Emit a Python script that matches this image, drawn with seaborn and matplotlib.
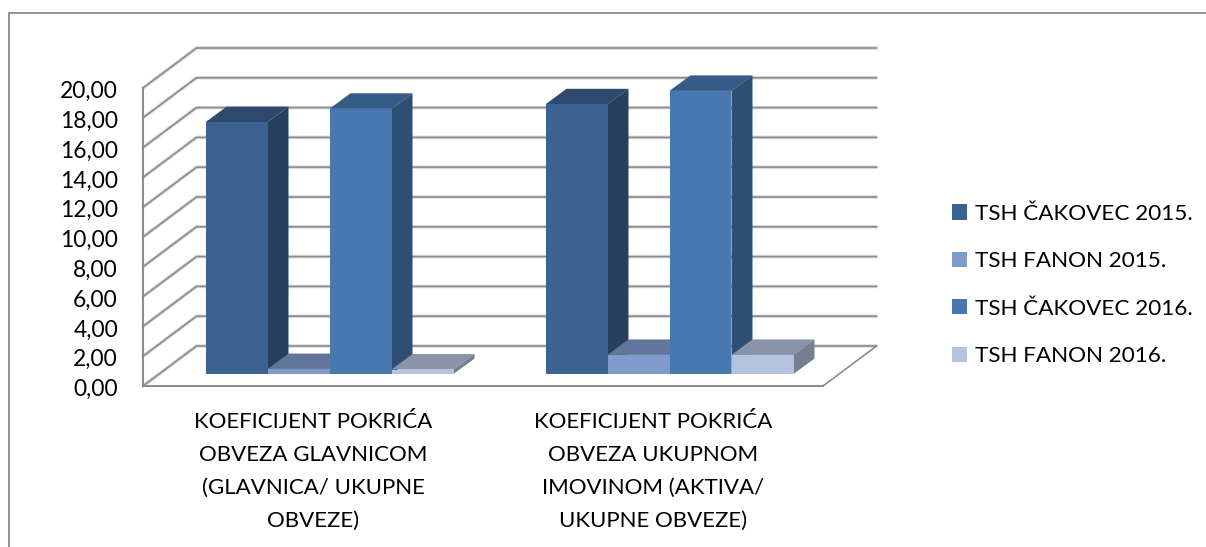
import matplotlib
matplotlib.use("Agg")
import matplotlib.pyplot as plt
import matplotlib.patheffects as pe
from matplotlib.colors import to_rgb
from matplotlib.lines import Line2D
from matplotlib.patches import Polygon
from matplotlib.transforms import ScaledTranslation
import pandas as pd
import seaborn as sns

# values
categories = [
    "KOEFICIJENT POKRIĆA\nOBVEZA GLAVNICOM\n(GLAVNICA/ UKUPNE\nOBVEZE)",
    "KOEFICIJENT POKRIĆA\nOBVEZA UKUPNOM\nIMOVINOM (AKTIVA/\nUKUPNE OBVEZE)",
]
series = ["TSH ČAKOVEC 2015.", "TSH FANON 2015.", "TSH ČAKOVEC 2016.", "TSH FANON 2016."]
cakovec_2015 = [16.9, 18.1]
fanon_2015 = [0.33, 1.28]
cakovec_2016 = [17.8, 19.0]
fanon_2016 = [0.30, 1.28]
colors = ["#3B6291", "#7F9BCB", "#4778B0", "#B5C3DF"]
y_ticks = list(range(0, 21, 2))

df = pd.DataFrame({
    "cat": categories * 4,
    "series": [s for s in series for _ in categories],
    "value": cakovec_2015 + fanon_2015 + cakovec_2016 + fanon_2016,
})

W, H = 1206, 547
GREY = "#8c8c8c"
sns.set_style("white")
plt.rcParams["font.family"] = ["Lato", "DejaVu Sans"]

fig = plt.figure(figsize=(W / 100, H / 100), dpi=100)
shadow = [pe.withStroke(linewidth=2.6, foreground="#dcdcdc")]

# outer frame, the crop only keeps its top and left edges
fig.add_artist(Line2D([8.5 / W, 8.5 / W, 1], [0, 1 - 13 / H, 1 - 13 / H], transform=fig.transFigure,
                      color=GREY, lw=1.3, solid_joinstyle="miter"))


def px_axes(left, right, bottom, top):
    return fig.add_axes([left / W, 1 - bottom / H, (right - left) / W, (bottom - top) / H])


# front plane of the box, it carries the real axes
wall = px_axes(143, 823, 386, 88)
wall.set_xlim(-0.5, 1.5)
wall.set_ylim(0, 20)
wall.patch.set_alpha(0)
sns.despine(ax=wall)
for side in ["left", "bottom"]:
    wall.spines[side].set_color(GREY)
    wall.spines[side].set_linewidth(1.5)
wall.set_yticks(y_ticks, [f"{v},00" for v in y_ticks])
wall.set_xticks([-0.5, 0.5, 1.5], ["", "", ""])
wall.set_xticks([0, 1], categories, minor=True)
wall.tick_params(axis="y", length=6, width=1.3, color=GREY, labelsize=16.4, pad=12, labelcolor="black")
wall.tick_params(axis="x", which="major", length=6, width=1.3, color=GREY)
wall.tick_params(axis="x", which="minor", length=0, labelsize=16, pad=19, labelcolor="black")
for lab in wall.get_xminorticklabels():
    lab.set_linespacing(1.81)
nudge = ScaledTranslation(0, -1.5 / 100, fig.dpi_scale_trans)
for lab in wall.get_yticklabels():
    lab.set_transform(lab.get_transform() + nudge)

# side wall, back wall and floor
WALL_DX = 53.5 / 340
WALL_DY = 40 / 14.9
for v in y_ticks:
    wall.plot([-0.5, -0.5 + WALL_DX, 1.5 + WALL_DX], [v, v + WALL_DY, v + WALL_DY], color=GREY, lw=1.2,
              clip_on=False, solid_joinstyle="miter", path_effects=shadow)
wall.plot([1.5, 1.5 + WALL_DX], [0, WALL_DY], color=GREY, lw=1.2, clip_on=False)

# bars sit a bit behind the front plane
ax = px_axes(159.5, 839.5, 374, 76)
sns.barplot(data=df, x="cat", y="value", hue="series", hue_order=series, palette=colors, saturation=1,
            width=248 / 340, gap=0, ax=ax, legend=True, linewidth=0)
ax.set_xlim(-0.5, 1.5)
ax.set_ylim(0, 20)
ax.axis("off")

BAR_DX = 21 / 340
BAR_DY = 15.5 / 14.9


def shade(color, k):
    return tuple(c * k for c in to_rgb(color))


# painter order left to right, each bar hides the side of the one before
bars = []
for container, color in zip(ax.containers, colors):
    bars += [(b, color) for b in container]
bars.sort(key=lambda item: item[0].get_x())
for i, (bar, color) in enumerate(bars):
    x0, x1, top = bar.get_x(), bar.get_x() + bar.get_width(), bar.get_height()
    bar.set_zorder(10 + i * 3 + 2)
    ax.add_patch(Polygon([(x0, top), (x1, top), (x1 + BAR_DX, top + BAR_DY), (x0 + BAR_DX, top + BAR_DY)],
                         fc=shade(color, 0.76), ec="none", clip_on=False, zorder=10 + i * 3))
    ax.add_patch(Polygon([(x1, 0), (x1, top), (x1 + BAR_DX, top + BAR_DY), (x1 + BAR_DX, BAR_DY)],
                         fc=shade(color, 0.65), ec="none", clip_on=False, zorder=10 + i * 3 + 1))

handles, labels = ax.get_legend_handles_labels()
for h in handles:
    h.set_linewidth(0)
ax.legend(handles, labels, loc="center left", bbox_to_anchor=(952 / W, 1 - 285 / H),
          bbox_transform=fig.transFigure, frameon=False, fontsize=16.2, handlelength=0.67, handleheight=0.67,
          handletextpad=0.36, labelspacing=1.22, borderpad=0, borderaxespad=0, labelcolor="black")

fig.savefig("out.png", dpi=100)
